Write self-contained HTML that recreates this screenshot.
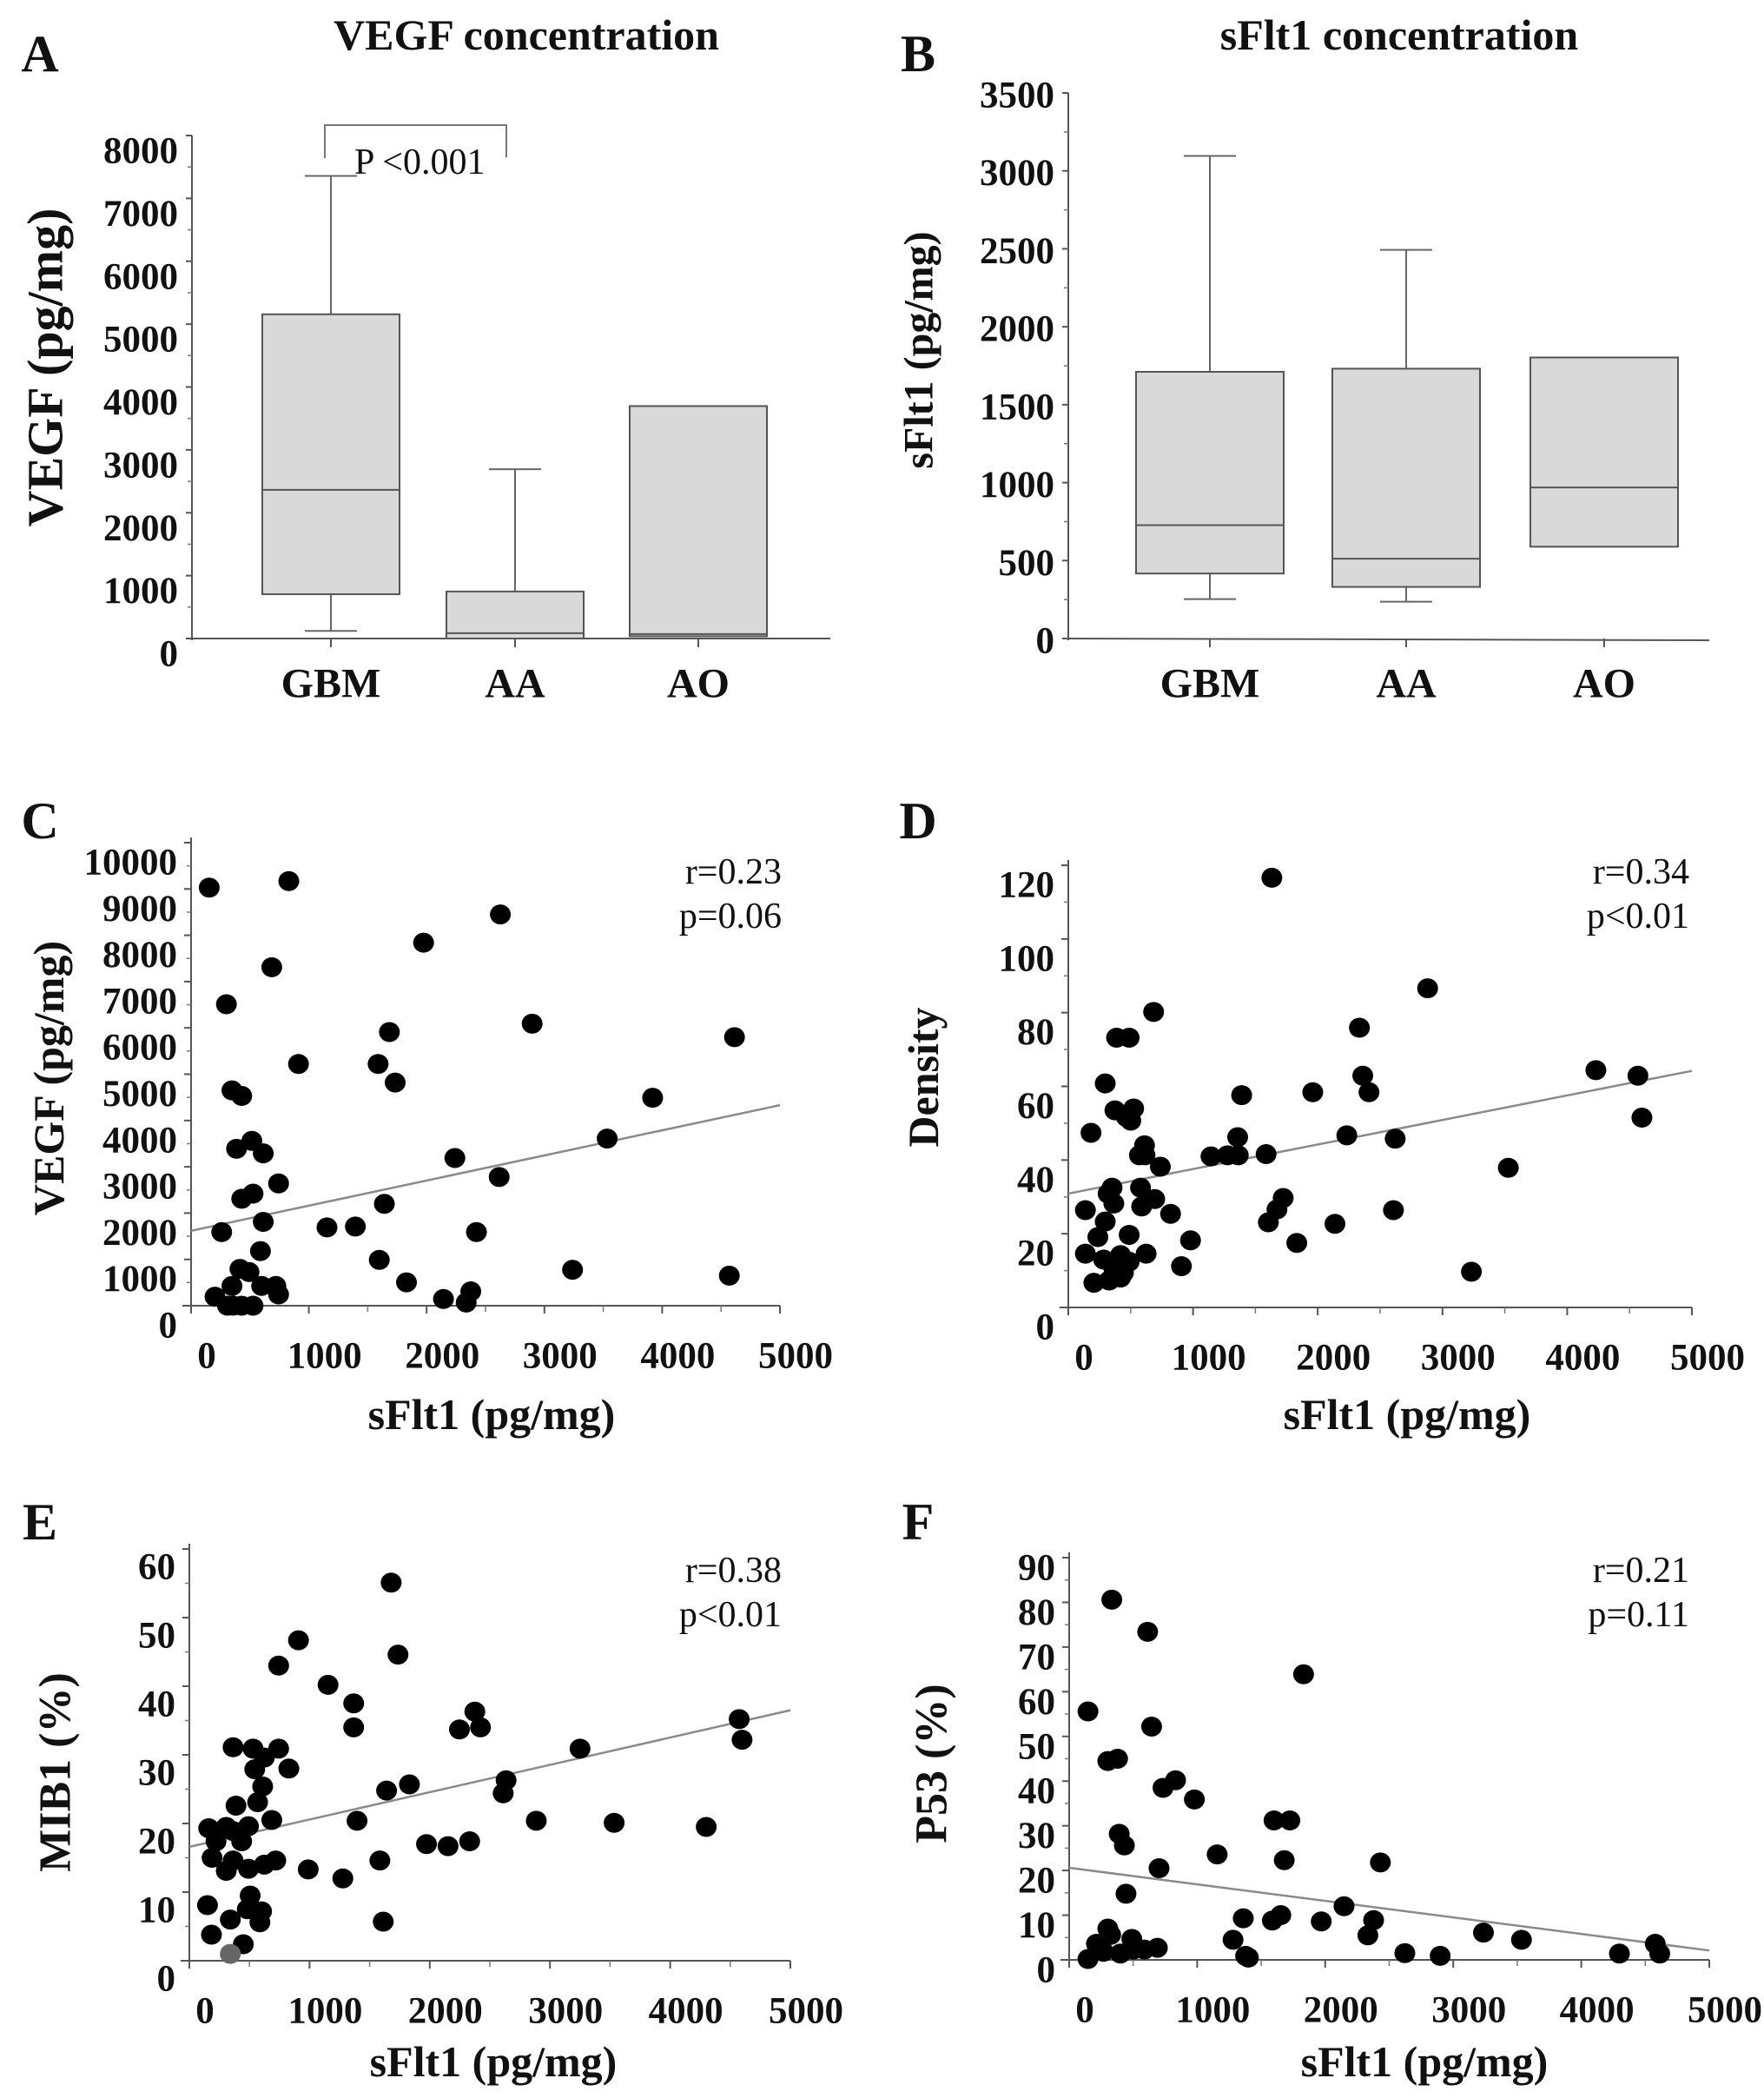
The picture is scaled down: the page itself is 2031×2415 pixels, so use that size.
<!DOCTYPE html>
<html><head><meta charset="utf-8"><style>
html,body{margin:0;padding:0;background:#fff;}
svg{display:block;}
text{font-family:"Liberation Serif",serif;fill:#111;}
.b{font-weight:bold;}
</style></head><body>
<svg id="fig" width="2031" height="2415" viewBox="0 0 2031 2415" xmlns="http://www.w3.org/2000/svg"></svg>
<script>
// ---- Panel A data (VEGF, pg/mg) ----
const boxCategories = ["GBM","AA","AO"];
const vegfQ1 = [705, 0, 36];
const vegfMedian = [2365, 85, 71];
const vegfQ3 = [5157, 748, 3697];
const vegfWhiskerLow = [121, null, null];
const vegfWhiskerHigh = [7357, 2692, null];
const vegfTicks = [0,1000,2000,3000,4000,5000,6000,7000,8000];
// ---- Panel B data (sFlt1, pg/mg) ----
const sfltQ1 = [417, 331, 589];
const sfltMedian = [727, 512, 969];
const sfltQ3 = [1711, 1731, 1803];
const sfltWhiskerLow = [253, 236, null];
const sfltWhiskerHigh = [3096, 2493, null];
const sfltTicks = [0,500,1000,1500,2000,2500,3000,3500];
// ---- Scatter shared x ticks ----
const sfltXTicks = [0,1000,2000,3000,4000,5000];
// ---- Panel C: VEGF vs sFlt1 ----
const cX = [154,830,2626,1974,685,300,2896,1684,4614,912,1588,1733,347,430,3919,516,386,613,3533,2240,2616,743,526,430,1641,613,260,1154,1395,2423,589,1598,415,492,3239,4570,1829,347,203,599,720,743,2143,2375,2336,309,430,526,357];
const cY = [9030,9170,8450,7840,7310,6510,6090,5910,5800,5220,5220,4820,4650,4530,4490,3560,3390,3290,3610,3190,2780,2640,2420,2310,2200,1810,1590,1690,1710,1590,1180,990,795,727,776,649,504,426,194,426,426,243,146,310,68,0,0,0,0];
const cFit = [1618, 4331];
const cYTicks = [0,1000,2000,3000,4000,5000,6000,7000,8000,9000,10000];
// ---- Panel D: Density vs sFlt1 ----
const dX = [1632,2881,684,2334,387,488,296,4230,4567,2361,1390,1960,2411,374,524,465,501,4599,182,1358,2233,2621,611,570,615,1144,1276,1363,1586,738,3528,351,319,579,365,588,693,1723,1673,137,2607,820,296,1604,2138,488,237,980,1832,137,624,283,419,488,365,442,907,3232,205,328,419];
const dY = [116.6,86.6,80.2,75.9,73.2,73.2,60.8,64.4,62.9,62.9,57.6,58.4,58.4,53.5,54.0,51.7,50.7,51.5,47.4,46.2,46.7,45.8,44.0,41.3,41.3,41.0,41.3,41.3,41.6,38.2,37.9,32.5,30.9,32.5,28.2,27.4,29.4,29.7,26.6,26.4,26.4,25.4,23.3,23.1,22.7,19.7,19.1,18.2,17.5,14.6,14.6,13.0,14.2,12.4,10.6,9.4,11.2,9.7,6.7,7.3,8.1];
const dFit = [30.9, 64.2];
const dYTicks = [0,20,40,60,80,100,120];
// ---- Panel E: MIB1 vs sFlt1 ----
const eX = [1679,908,1736,743,1154,1367,2375,4574,1367,2247,2422,4598,364,530,743,3250,624,544,828,610,1831,2635,1641,2611,388,568,686,1395,2886,3534,4300,161,307,492,364,222,435,1973,2152,2332,189,364,307,492,624,719,1585,989,1277,506,482,601,151,587,341,1613,184,449];
const eY = [55.1,46.7,44.6,43.0,40.2,37.5,36.3,35.2,34.0,33.7,34.0,32.2,31.1,30.9,30.9,30.9,29.6,27.9,28.0,25.4,25.7,26.3,24.8,24.4,22.6,23.1,20.5,20.4,20.4,20.1,19.5,19.3,19.5,19.6,18.9,17.4,17.4,17.0,16.7,17.4,15.0,14.6,13.1,13.4,14.0,14.6,14.6,13.3,12.0,9.5,7.5,7.2,8.1,5.6,6.0,5.7,3.8,2.4];
const eGreyX = [341];
const eGreyY = [1.0];
const eFit = [16.6, 36.5];
const eYTicks = [0,10,20,30,40,50,60];
// ---- Panel F: P53 vs sFlt1 ----
const fX = [333,613,1831,147,644,302,378,831,733,978,1600,1724,391,431,1156,1680,2431,702,444,2147,1360,1587,1653,1969,2378,2333,3236,3533,302,324,1280,489,213,689,502,587,267,400,147,1378,1400,2622,2898,4298,4578,4613];
const fY = [80.6,73.4,63.9,55.6,52.2,44.5,45.0,40.2,38.5,35.9,31.2,31.2,28.2,25.6,23.6,22.3,21.8,20.5,14.8,12.0,9.3,8.8,10.0,8.6,8.9,5.5,6.1,4.5,7.0,5.6,4.5,4.7,3.6,2.7,2.3,2.3,1.8,1.4,0.2,0.9,0.5,1.5,0.9,1.4,3.6,1.4];
const fFit = [20.6, 2.1];
const fYTicks = [0,10,20,30,40,50,60,70,80,90];

const NS = "http://www.w3.org/2000/svg";
const svg = document.getElementById("fig");
const TICK_FS = 43;
function mk(tag, attrs, parent){
  const e = document.createElementNS(NS, tag);
  for (const k in attrs) e.setAttribute(k, attrs[k]);
  (parent||svg).appendChild(e);
  return e;
}
function txt(s, attrs, parent){
  const e = mk("text", attrs, parent);
  e.textContent = s;
  return e;
}
function line(x1,y1,x2,y2,col,w,parent){
  return mk("line",{x1:x1,y1:y1,x2:x2,y2:y2,stroke:col||"#555","stroke-width":w||2},parent);
}

// ---------- Box plots ----------
function boxPanel(o){
  const g = mk("g",{});
  
  
  const y = v => o.y0 - v/o.yMax*(o.y0-o.yTop);
  const ya = line(o.axisX, o.yTop, o.axisX, o.y0+2, "#555", 2, g);
  
  
  const xa = line(o.axisX, o.y0, o.axisEnd, o.y0 + o.xSlope, "#555", 2, g);
  
  
  o.ticks.forEach((t,i) => {
    line(o.axisX-7, y(t), o.axisX, y(t), "#555", 2, g);
    if (i < o.ticks.length-1) { const m=(t+o.ticks[i+1])/2; line(o.axisX-5, y(m), o.axisX, y(m), "#777", 1.5, g); }
    const tl = txt(String(t),{x:o.axisX-16, y:y(t)+o.labelOff, "text-anchor":"end","dominant-baseline":"central","font-size":TICK_FS,class:"b"},g);
    
    
  });
  boxCategories.forEach((c,i) => {
    const cx = o.cx[i];
    line(cx, o.y0, cx, o.y0+10, "#555", 2, g);
    if (o.wHi[i] != null) {
      line(cx, y(o.q3[i]), cx, y(o.wHi[i]), "#666", 2, g);
      line(cx-30, y(o.wHi[i]), cx+30, y(o.wHi[i]), "#666", 2, g);
    }
    if (o.wLo[i] != null) {
      line(cx, y(o.q1[i]), cx, y(o.wLo[i]), "#666", 2, g);
      line(cx-30, y(o.wLo[i]), cx+30, y(o.wLo[i]), "#666", 2, g);
    }
    const r = mk("rect",{x:cx-o.hw, y:y(o.q3[i]), width:o.hw*2, height:y(o.q1[i])-y(o.q3[i]), fill:"#d9d9d9", stroke:"#555","stroke-width":2},g);
    
    
    const m = line(cx-o.hw, y(o.med[i]), cx+o.hw, y(o.med[i]), "#555", 2, g);
    
    
    const cl = txt(c,{x:cx, y:o.catY, "text-anchor":"middle","dominant-baseline":"central","font-size":48,class:"b"},g);
    
    
  });
  return {g:g, y:y};
}

const A = boxPanel({name:"panel-a", axisX:221, axisEnd:956, y0:735, yTop:156, yMax:8000, xSlope:0, ticks:vegfTicks, labelOff:18,
  cx:[381,593,804], hw:79, q1:vegfQ1, med:vegfMedian, q3:vegfQ3, wLo:vegfWhiskerLow, wHi:vegfWhiskerHigh, catY:787});
const br = mk("path",{d:"M374 182 L374 144 L583 144 L583 181", fill:"none", stroke:"#777","stroke-width":2}, A.g);


const pt = txt("P <0.001",{x:408, y:200, "font-size":42}, A.g);



const B = boxPanel({name:"panel-b", axisX:1230, axisEnd:1968, y0:735, yTop:107, yMax:3500, xSlope:2, ticks:sfltTicks, labelOff:3,
  cx:[1393,1619,1847], hw:85, q1:sfltQ1, med:sfltMedian, q3:sfltQ3, wLo:sfltWhiskerLow, wHi:sfltWhiskerHigh, catY:787});

// ---------- Scatter plots ----------
function scatter(o){
  const g = mk("g",{});
  
  
  const x = v => o.x0 + v/5000*(o.x1-o.x0);
  const y = v => o.y0 - v/o.yMax*(o.y0-o.yTop);
  const ya = line(o.x0, o.yTop-6, o.x0, o.y0+4, "#555", 2, g);
  
  
  const xa = line(o.x0-10, o.y0, o.x1, o.y0, "#555", 2, g);
  
  
  sfltXTicks.forEach((t,i) => {
    line(x(t), o.y0, x(t), o.y0+9, "#555", 2, g);
    if (i < sfltXTicks.length-1) line(x(t+500), o.y0, x(t+500), o.y0+7, "#777", 1.5, g);
    const l = txt(String(t),{x:x(t)+18, y:o.y0+58, "text-anchor":"middle","dominant-baseline":"central","font-size":TICK_FS,class:"b"},g);
    
    
  });
  o.yTicks.forEach((t,i) => {
    line(o.x0-8, y(t), o.x0, y(t), "#555", 2, g);
    if (i < o.yTicks.length-1) { const m=(t+o.yTicks[i+1])/2; line(o.x0-5, y(m), o.x0, y(m), "#777", 1.5, g); }
    const l = txt(String(t),{x:o.x0-16, y:y(t)+o.labelOff, "text-anchor":"end","dominant-baseline":"central","font-size":TICK_FS,class:"b"},g);
    
    
  });
  const fit = line(x(0), y(o.fit[0]), x(5000), y(o.fit[1]), "#8a8a8a", 2.5, g);
  
  
  o.xs.forEach((v,i) => {
    const c = mk("ellipse",{cx:x(v), cy:y(o.ys[i]), rx:12, ry:11.5, fill:"#000"}, g);
    
    
  });
  if (o.gx) o.gx.forEach((v,i) => {
    const c = mk("ellipse",{cx:x(v), cy:y(o.gy[i]), rx:12, ry:11.5, fill:"#666"}, g);
    
    
  });
  const xt = txt("sFlt1 (pg/mg)",{x:o.xTitleX, y:o.xTitleY, "text-anchor":"middle","dominant-baseline":"central","font-size":50,class:"b"},g);
  
  
  const r1 = txt(o.r,{x:o.statX, y:o.statY, "text-anchor":"end","font-size":42},g);
  
  
  const p1 = txt(o.p,{x:o.statX, y:o.statY+51, "text-anchor":"end","font-size":42},g);
  
  
  return g;
}

scatter({name:"panel-c", x0:220, x1:898, y0:1503, yTop:970, yMax:10000, yTicks:cYTicks, labelOff:23,
  xs:cX, ys:cY, fit:cFit, xTitleX:566, xTitleY:1628, r:"r=0.23", p:"p=0.06", statX:900, statY:1017});
scatter({name:"panel-d", x0:1230, x1:1948, y0:1505, yTop:996, yMax:120, yTicks:dYTicks, labelOff:23,
  xs:dX, ys:dY, fit:dFit, xTitleX:1620, xTitleY:1628, r:"r=0.34", p:"p<0.01", statX:1945, statY:1017});
scatter({name:"panel-e", x0:218, x1:910, y0:2257, yTop:1783, yMax:60, yTicks:eYTicks, labelOff:21,
  xs:eX, ys:eY, gx:eGreyX, gy:eGreyY, fit:eFit, xTitleX:568, xTitleY:2373, r:"r=0.38", p:"p<0.01", statX:900, statY:1821});
scatter({name:"panel-f", x0:1231, x1:1968, y0:2256, yTop:1793, yMax:90, yTicks:fYTicks, labelOff:12,
  xs:fX, ys:fY, fit:fFit, xTitleX:1640, xTitleY:2373, r:"r=0.21", p:"p=0.11", statX:1945, statY:1821});

// ---------- Titles, panel letters, y-axis titles ----------
function label(s, x, y, size, name, rot){
  const t = txt(s,{x:x, y:y, "text-anchor":"middle","dominant-baseline":"central","font-size":size, class:"b"});
  if (rot) t.setAttribute("transform","rotate(-90 "+x+" "+y+")");
  
  
}
label("VEGF concentration", 606, 40, 50, "panel-a-title");
label("sFlt1 concentration", 1611, 40, 50, "panel-b-title");
label("A", 46, 62, 60, "panel-letter-a");
label("B", 1057, 62, 60, "panel-letter-b");
label("C", 46, 945, 60, "panel-letter-c");
label("D", 1057, 945, 60, "panel-letter-d");
label("E", 46, 1752, 60, "panel-letter-e");
label("F", 1057, 1752, 60, "panel-letter-f");
label("VEGF (pg/mg)", 52, 423, 58, "y-axis-title-a", true);
label("sFlt1 (pg/mg)", 1058, 403, 48, "y-axis-title-b", true);
label("VEGF (pg/mg)", 56, 1241, 50, "y-axis-title-c", true);
label("Density", 1063, 1240, 50, "y-axis-title-d", true);
label("MIB1 (%)", 64, 2040, 52, "y-axis-title-e", true);
label("P53 (%)", 1073, 2030, 52, "y-axis-title-f", true);
</script>
</body></html>
